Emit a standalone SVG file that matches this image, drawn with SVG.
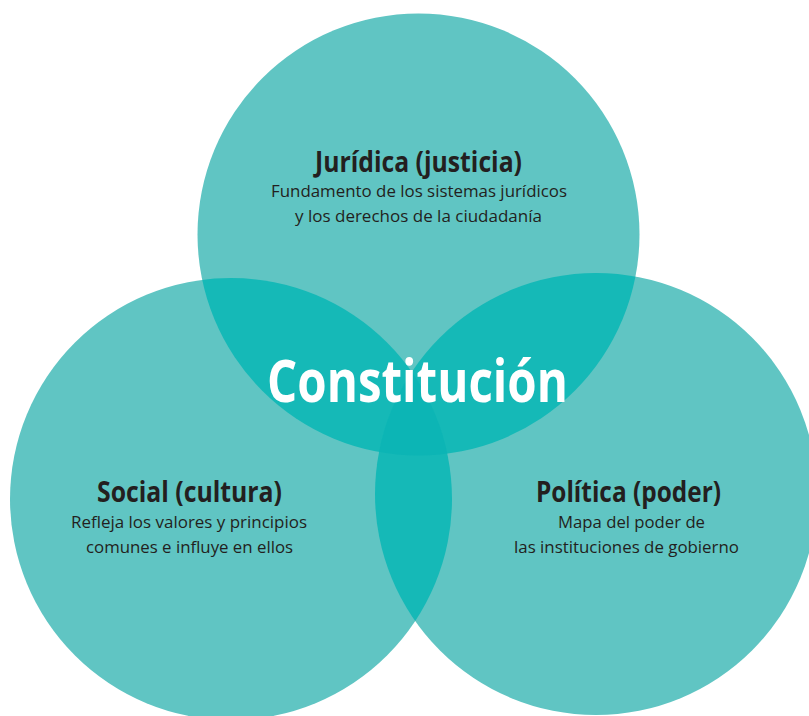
<svg xmlns="http://www.w3.org/2000/svg" width="809" height="716" viewBox="0 0 809 716">
  <style>
    .circle { fill: #60c5c3; }
    .pair { fill: #15b9b7; }
    .triple { fill: #0cb5b5; }
    .title { font-family: "Open Sans", "Liberation Sans", sans-serif; font-weight: 700; font-size: 28px; fill: #231f20; text-anchor: middle; }
    .desc { font-family: "Open Sans", "Liberation Sans", sans-serif; font-weight: 400; font-size: 17px; fill: #231f20; text-anchor: middle; }
    .center { font-family: "Open Sans", "Liberation Sans", sans-serif; font-weight: 700; font-size: 59px; fill: #ffffff; text-anchor: middle; }
  </style>
  <defs>
    <clipPath id="clipTop"><circle cx="418.5" cy="234.5" r="221"/></clipPath>
    <clipPath id="clipLeft"><circle cx="231" cy="499" r="221"/></clipPath>
    <clipPath id="clipRight"><circle cx="596" cy="494" r="221"/></clipPath>
  </defs>
  <rect width="809" height="716" fill="#ffffff"/>

  <g id="node-juridica">
    <circle class="circle" cx="418.5" cy="234.5" r="221"/>
  </g>
  <g id="node-social">
    <circle class="circle" cx="231" cy="499" r="221"/>
  </g>
  <g id="node-politica">
    <circle class="circle" cx="596" cy="494" r="221"/>
  </g>

  <g id="overlaps">
    <g clip-path="url(#clipTop)">
      <circle class="pair" cx="231" cy="499" r="221"/>
      <circle class="pair" cx="596" cy="494" r="221"/>
    </g>
    <g clip-path="url(#clipLeft)">
      <circle class="pair" cx="596" cy="494" r="221"/>
    </g>
    <g clip-path="url(#clipTop)">
      <g clip-path="url(#clipLeft)">
        <circle class="triple" cx="596" cy="494" r="221"/>
      </g>
    </g>
  </g>

  <g id="connectors"></g>

  <g id="label-juridica">
    <text class="title" x="418.5" y="172" textLength="207" lengthAdjust="spacingAndGlyphs">Jurídica (justicia)</text>
    <text class="desc" x="419" y="197" textLength="296" lengthAdjust="spacingAndGlyphs">Fundamento de los sistemas jurídicos</text>
    <text class="desc" x="418.5" y="222" textLength="247" lengthAdjust="spacingAndGlyphs">y los derechos de la ciudadanía</text>
  </g>
  <g id="label-social">
    <text class="title" x="189.5" y="502" textLength="185" lengthAdjust="spacingAndGlyphs">Social (cultura)</text>
    <text class="desc" x="189" y="528" textLength="236" lengthAdjust="spacingAndGlyphs">Refleja los valores y principios</text>
    <text class="desc" x="189.5" y="553" textLength="207" lengthAdjust="spacingAndGlyphs">comunes e influye en ellos</text>
  </g>
  <g id="label-politica">
    <text class="title" x="628.5" y="502" textLength="185" lengthAdjust="spacingAndGlyphs">Política (poder)</text>
    <text class="desc" x="631.5" y="528" textLength="147" lengthAdjust="spacingAndGlyphs">Mapa del poder de</text>
    <text class="desc" x="626.5" y="553" textLength="225" lengthAdjust="spacingAndGlyphs">las instituciones de gobierno</text>
  </g>
  <g id="label-center">
    <text class="center" x="417.5" y="402" textLength="301" lengthAdjust="spacingAndGlyphs">Constitución</text>
  </g>
</svg>
